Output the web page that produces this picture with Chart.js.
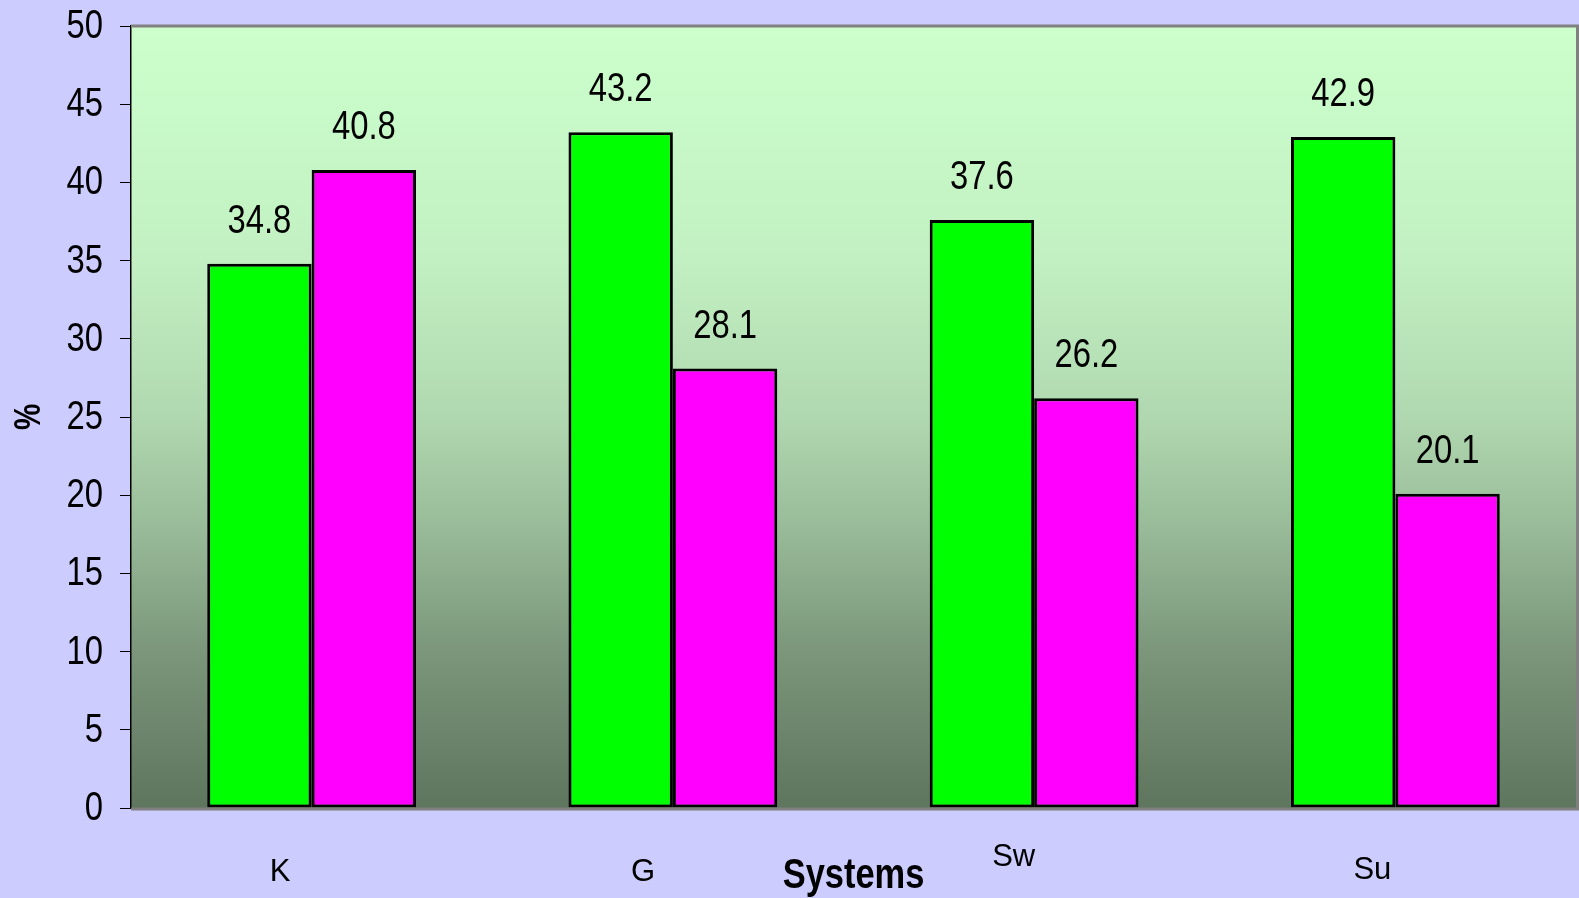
<!DOCTYPE html>
<html>
<head>
<meta charset="utf-8">
<script src="https://cdn.jsdelivr.net/npm/chart.js@4"></script>
<style>
  html, body { margin: 0; padding: 0; background: #ccccff; }
  #wrap { width: 1579px; height: 898px; }
</style>
</head>
<body>
<div id="wrap"><canvas id="systemsChart"></canvas></div>
<script>
// Systems on the x axis, two series per system (%)
var systems = ['K', 'G', 'Sw', 'Su'];
var greenValues = [34.8, 43.2, 37.6, 42.9];
var magentaValues = [40.8, 28.1, 26.2, 20.1];
var yTicks = [0, 5, 10, 15, 20, 25, 30, 35, 40, 45, 50];

var FONT = '"Liberation Sans", Arial, sans-serif';

// raise of each category label above the common baseline
var labelLift = [0, 0, 15, 2];

// condensed text: plain Liberation Sans squeezed horizontally
function narrowText(ctx, text, x, y, font, align) {
    ctx.save();
    ctx.font = font;
    ctx.textAlign = align;
    ctx.translate(x, y);
    ctx.scale(0.82, 1);
    ctx.fillText(text, 0, 0);
    ctx.restore();
}

// plot background, frame, axis labels and value labels
var decor = {
    id: 'decor',
    beforeDraw: function(chart) {
        var ctx = chart.ctx, a = chart.chartArea;
        var g = ctx.createLinearGradient(0, a.top, 0, a.bottom);
        g.addColorStop(0, '#ccffcc');
        g.addColorStop(0.3, '#c2f0c2');
        g.addColorStop(0.5, '#b0d8b0');
        g.addColorStop(0.65, '#97b997');
        g.addColorStop(0.8, '#7b967b');
        g.addColorStop(1, '#5e755e');
        ctx.save();
        ctx.fillStyle = g;
        ctx.fillRect(a.left, a.top, a.right - a.left, a.bottom - a.top);
        ctx.restore();
    },
    afterDatasetsDraw: function(chart) {
        var ctx = chart.ctx, a = chart.chartArea;
        ctx.save();
        // gray frame on top, right and bottom
        ctx.strokeStyle = '#808080';
        ctx.lineWidth = 3;
        ctx.beginPath();
        ctx.moveTo(a.left, a.top);
        ctx.lineTo(a.right + 1.5, a.top);
        ctx.lineTo(a.right + 1.5, a.bottom + 1);
        ctx.lineTo(a.left, a.bottom + 1);
        ctx.stroke();
        ctx.fillStyle = '#000';
        ctx.textBaseline = 'alphabetic';

        // value labels above the bars
        chart.data.datasets.forEach(function(ds, di) {
            chart.getDatasetMeta(di).data.forEach(function(bar, i) {
                narrowText(ctx, ds.data[i].toFixed(1), bar.x, bar.y - 31, '40px ' + FONT, 'center');
            });
        });

        // y tick labels
        var y = chart.scales.y;
        ctx.textBaseline = 'middle';
        yTicks.forEach(function(v) {
            narrowText(ctx, String(v), 103, y.getPixelForValue(v) + 1, '40px ' + FONT, 'right');
        });

        // category labels
        var x = chart.scales.x;
        ctx.font = '31px ' + FONT;
        ctx.textAlign = 'left';
        systems.forEach(function(s, i) {
            ctx.fillText(s, x.getPixelForValue(i) - 42, 872 - labelLift[i]);
        });

        // axis titles
        narrowText(ctx, 'Systems', (a.left + a.right) / 2, 876, 'bold 42px ' + FONT, 'center');
        ctx.translate(30, 417);
        ctx.rotate(-Math.PI / 2);
        narrowText(ctx, '%', 0, 0, 'bold 36px ' + FONT, 'center');
        ctx.restore();
    }
};

var ctx = document.getElementById('systemsChart').getContext('2d');

var chart = new Chart(ctx, {
    type: 'bar',
    data: {
        labels: systems,
        datasets: [{
            data: greenValues,
            backgroundColor: '#00ff00',
            borderColor: '#000',
            borderWidth: 3,
            borderSkipped: false
        },
        {
            data: magentaValues,
            backgroundColor: '#ff00ff',
            borderColor: '#000',
            borderWidth: 3,
            borderSkipped: false
        }]
    },
    options: {
        responsive: true,
        maintainAspectRatio: false,
        animation: false,
        layout: { padding: { left: 0, top: 26, right: 3, bottom: 0 } },
        plugins: {
            legend: { display: false },
            tooltip: { enabled: false }
        },
        datasets: {
            bar: { categoryPercentage: 0.578, barPercentage: 1 }
        },
        scales: {
            x: {
                grid: { display: false },
                border: { display: false },
                ticks: { display: false },
                afterFit: function(scale) { scale.height = 90; }
            },
            y: {
                min: 0,
                max: 50,
                afterBuildTicks: function(scale) {
                    scale.ticks = yTicks.map(function(v) { return { value: v }; });
                },
                grid: {
                    drawOnChartArea: false,
                    drawTicks: true,
                    tickLength: 11,
                    color: '#000'
                },
                border: { display: true, color: '#000', width: 1.5 },
                ticks: { display: false },
                afterFit: function(scale) { scale.width = 131; }
            }
        }
    },
    plugins: [decor]
});
</script>
</body>
</html>
